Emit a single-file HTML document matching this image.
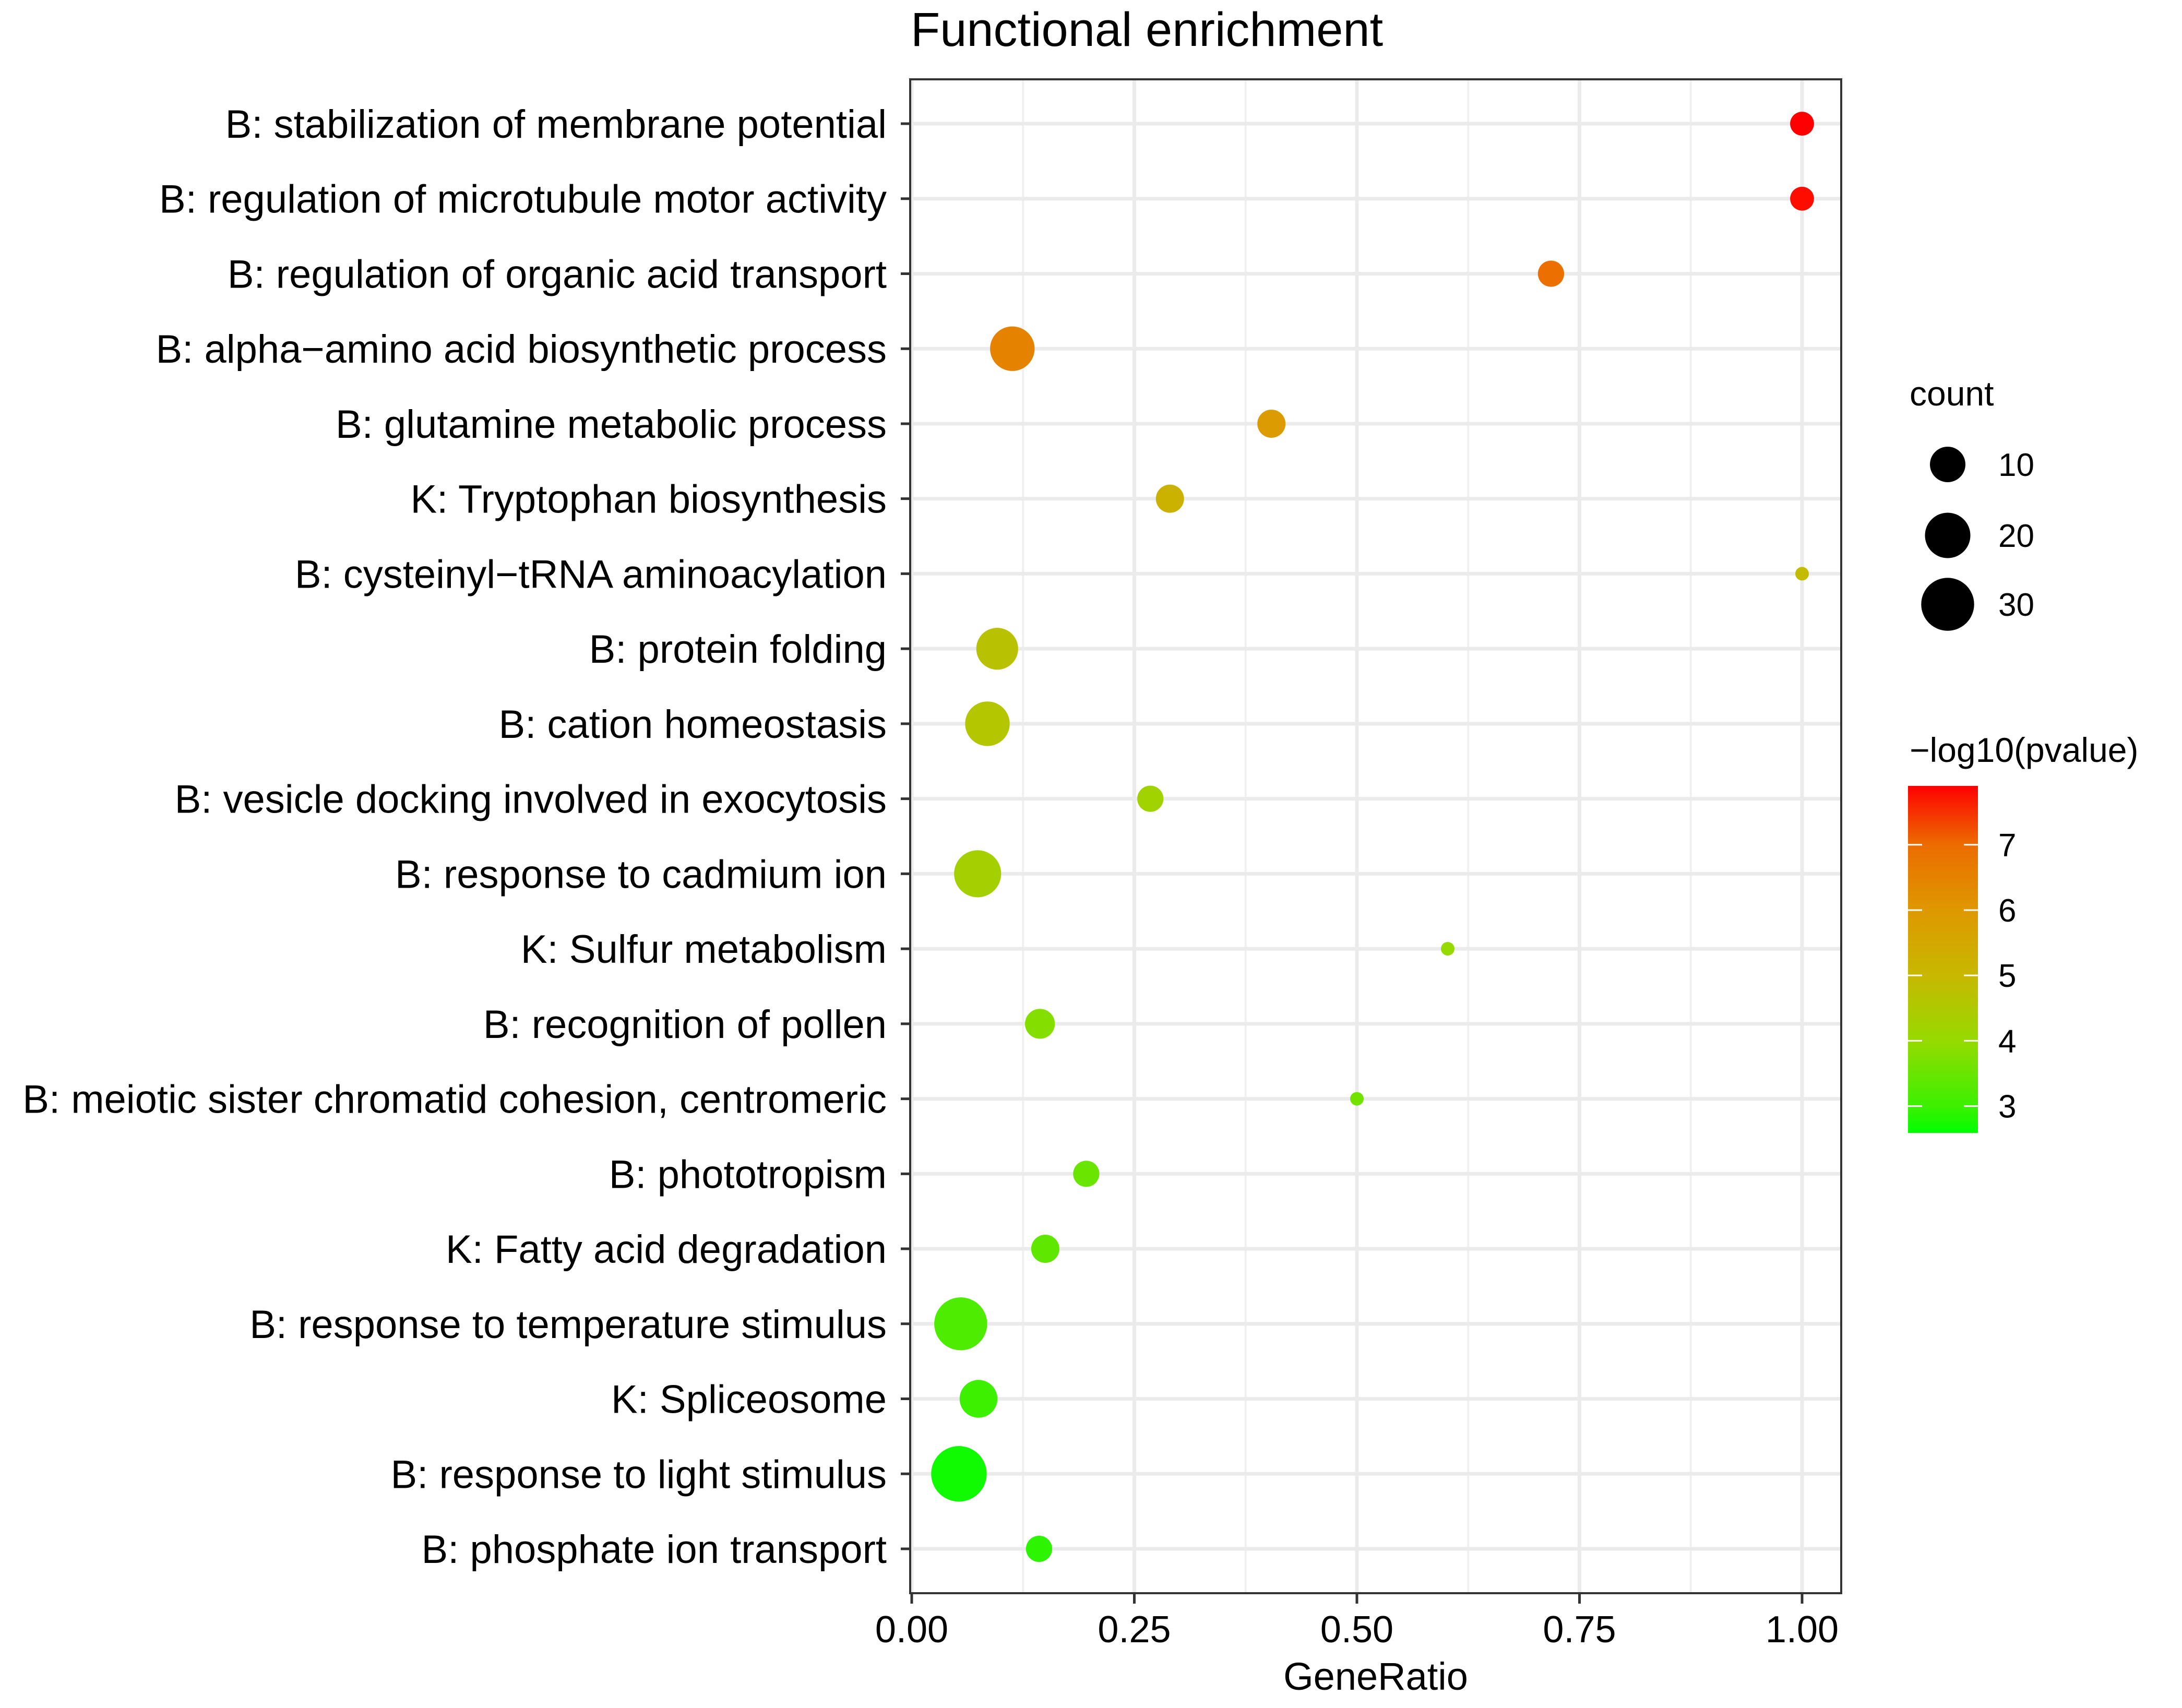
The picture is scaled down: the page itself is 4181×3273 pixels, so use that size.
<!DOCTYPE html>
<html><head><meta charset="utf-8"><style>
html,body{margin:0;padding:0;background:#fff}
svg{display:block;font-family:"Liberation Sans",Arial,sans-serif}
</style></head><body>
<svg id="chart" width="4181" height="3273" viewBox="0 0 4181 3273" xmlns="http://www.w3.org/2000/svg">
<rect width="4181" height="3273" fill="#fff"/>
<text x="1745" y="88" font-size="92" fill="#000">Functional enrichment</text>
<g id="grid"></g>
<g id="yaxis"></g>
<g id="xaxis"></g>
<g id="points"></g>
<rect x="1744" y="152" width="1784" height="2901" fill="none" stroke="#333" stroke-width="4"/>
<text x="2636" y="3238" font-size="74" text-anchor="middle" fill="#000">GeneRatio</text>
<g id="legend"></g>
</svg>
<script>
const categories = ["B: stabilization of membrane potential ","B: regulation of microtubule motor activity","B: regulation of organic acid transport","B: alpha\u2212amino acid biosynthetic process","B: glutamine metabolic process","K: Tryptophan biosynthesis","B: cysteinyl\u2212tRNA aminoacylation","B: protein folding","B: cation homeostasis","B: vesicle docking involved in exocytosis","B: response to cadmium ion","K: Sulfur metabolism","B: recognition of pollen","B: meiotic sister chromatid cohesion, centromeric","B: phototropism","K: Fatty acid degradation","B: response to temperature stimulus","K: Spliceosome","B: response to light stimulus","B: phosphate ion transport"];
const geneRatio = [1.0,1.0,0.718,0.113,0.404,0.29,1.0,0.096,0.085,0.268,0.074,0.602,0.144,0.50,0.196,0.15,0.055,0.075,0.053,0.143];
const counts = [3,3,4,19,5,5,1,16,19,4,22,1,6,1,4,5,30,12,34,4];
const logp = [7.9,7.8,6.9,6.5,5.9,5.2,4.9,4.7,4.6,4.2,4.3,4.0,3.8,3.6,3.5,3.4,3.2,3.0,2.7,2.9];
const xTicks = [0,0.25,0.5,0.75,1.0];
const xTickLabels = ["0.00","0.25","0.50","0.75","1.00"];
const xMinor = [0.125,0.375,0.625,0.875];
const sizeBreaks = [10,20,30];
const colorBreaks = [3,4,5,6,7];

const NS="http://www.w3.org/2000/svg";
function mk(tag,attrs,parent){const e=document.createElementNS(NS,tag);for(const k in attrs)e.setAttribute(k,attrs[k]);parent.appendChild(e);return e;}
const xs=v=>1747+1706*v;
const ys=i=>237+i*(2968-237)/19;
const cmin=1;
const rs=c=>13+7*Math.sqrt(Math.max(0,c-cmin));
const stops=[[2.59,[0,255,0]],[3,[60,240,0]],[4,[150,218,0]],[5,[200,184,0]],[6,[222,152,0]],[7,[236,108,0]],[7.9,[255,0,0]]];
function col(v){if(v<=stops[0][0])return 'rgb('+stops[0][1]+')';for(let i=1;i<stops.length;i++){if(v<=stops[i][0]){const t=(v-stops[i-1][0])/(stops[i][0]-stops[i-1][0]);const a=stops[i-1][1],b=stops[i][1];return 'rgb('+a.map((x,j)=>Math.round(x+(b[j]-x)*t)).join(',')+')';}}return 'rgb(255,0,0)';}

const grid=document.getElementById('grid');
xMinor.forEach(v=>{const l=mk('line',{x1:xs(v),x2:xs(v),y1:152,y2:3053,stroke:'#f0f0f0','stroke-width':4},grid);

});
xTicks.forEach(v=>{const l=mk('line',{x1:xs(v),x2:xs(v),y1:152,y2:3053,stroke:'#ebebeb','stroke-width':7},grid);

});
categories.forEach((c,i)=>{const l=mk('line',{x1:1744,x2:3528,y1:ys(i),y2:ys(i),stroke:'#ebebeb','stroke-width':7},grid);

});

const ya=document.getElementById('yaxis');
categories.forEach((c,i)=>{
const t=mk('line',{x1:1726,x2:1744,y1:ys(i),y2:ys(i),stroke:'#333','stroke-width':5},ya);


const tx=mk('text',{x:1699,y:ys(i)+27,'font-size':76,'text-anchor':'end',fill:'#000'},ya);


tx.setAttribute('xml:space','preserve');
tx.textContent=c;});

const xa=document.getElementById('xaxis');
xTicks.forEach((v,i)=>{
const t=mk('line',{x1:xs(v),x2:xs(v),y1:3053,y2:3073,stroke:'#333','stroke-width':5},xa);


const tx=mk('text',{x:xs(v),y:3147,'font-size':72,'text-anchor':'middle',fill:'#000'},xa);


tx.textContent=xTickLabels[i];});

const pts=document.getElementById('points');
categories.forEach((c,i)=>{
const p=mk('circle',{cx:xs(geneRatio[i]),cy:ys(i),r:rs(counts[i]),fill:col(logp[i])},pts);

});

const lg=document.getElementById('legend');
const lt=mk('text',{x:3659,y:777,'font-size':66,fill:'#000'},lg);


lt.textContent='count';
const sizeY=[890,1026,1158];
sizeBreaks.forEach((b,i)=>{
const c=mk('circle',{cx:3732,cy:sizeY[i],r:rs(b),fill:'#000'},lg);


const t=mk('text',{x:3829,y:sizeY[i]+22,'font-size':62,fill:'#000'},lg);


t.textContent=b;});
const ct=mk('text',{x:3659,y:1460,'font-size':66,fill:'#000'},lg);


ct.textContent='\u2212log10(pvalue)';
const defs=mk('defs',{},lg);
const grad=mk('linearGradient',{id:'cg',x1:0,y1:1,x2:0,y2:0},defs);
const vTop=7.9,vBot=2.59;
stops.forEach(s=>{mk('stop',{offset:(s[0]-vBot)/(vTop-vBot),'stop-color':'rgb('+s[1]+')'},grad);});
const cb=mk('rect',{x:3656,y:1506,width:134,height:665,fill:'url(#cg)'},lg);


const cy=v=>2171-(v-vBot)*(665/(vTop-vBot));
colorBreaks.forEach(b=>{
const l1=mk('line',{x1:3656,x2:3683,y1:cy(b),y2:cy(b),stroke:'#fff','stroke-width':3},lg);


const l2=mk('line',{x1:3763,x2:3790,y1:cy(b),y2:cy(b),stroke:'#fff','stroke-width':3},lg);


const t=mk('text',{x:3829,y:cy(b)+22,'font-size':62,fill:'#000'},lg);


t.textContent=b;});
</script>
</body></html>
